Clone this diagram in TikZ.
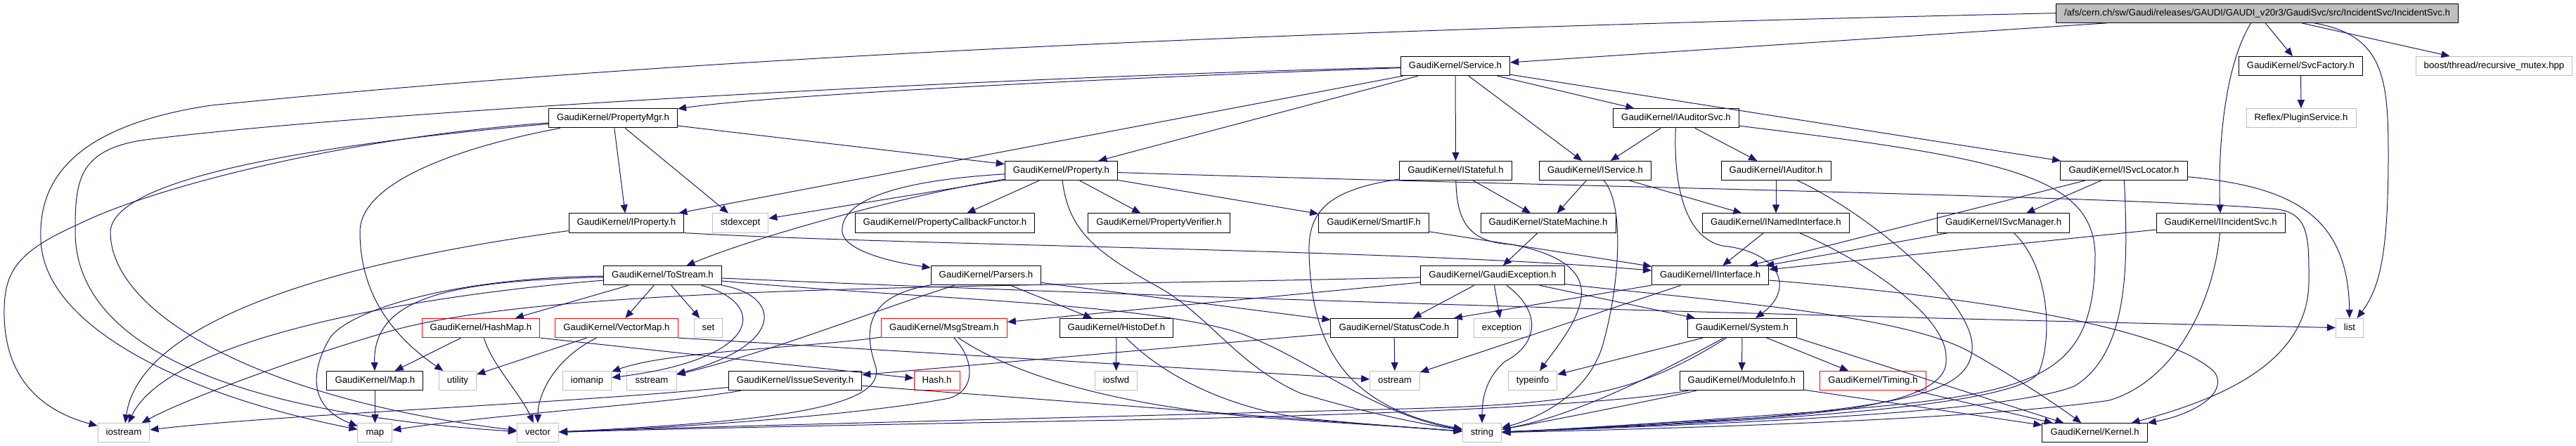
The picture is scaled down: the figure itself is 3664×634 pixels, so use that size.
\documentclass[tikz,border=0pt]{standalone}
\usepackage{fontspec}
\setmainfont{Liberation Sans}
\usetikzlibrary{arrows.meta}
\definecolor{edgeblue}{HTML}{191970}
\definecolor{grey75}{HTML}{BFBFBF}
\begin{document}
\begin{tikzpicture}[x=0.5pt,y=-0.5pt,
  font=\fontsize{6.6pt}{8pt}\selectfont,
  hdr/.style={draw=black,line width=0.5pt,inner xsep=5.8pt,inner ysep=0pt,minimum height=13.6pt,text height=4.8pt,text depth=1.4pt},
  syshdr/.style={hdr,draw=grey75},
  cuthdr/.style={hdr,draw=red},
  dep/.style={draw=edgeblue,line width=0.5pt,-{Triangle[length=6pt,width=5pt]}}]
\useasboundingbox (0,0) rectangle (3664,634);
\node[hdr,fill=grey75] (root) at (3210.5,18.7) {/afs/cern.ch/sw/Gaudi/releases/GAUDI/GAUDI\_v20r3/GaudiSvc/src/IncidentSvc/IncidentSvc.h};
\node[hdr] (service) at (2070,94) {GaudiKernel/Service.h};
\node[hdr] (svcfactory) at (3272.5,94) {GaudiKernel/SvcFactory.h};
\node[syshdr] (boost) at (3547.5,94) {boost/thread/recursive\_mutex.hpp};
\node[hdr] (propmgr) at (872,168.3) {GaudiKernel/PropertyMgr.h};
\node[hdr] (iauditorsvc) at (2384,168.3) {GaudiKernel/IAuditorSvc.h};
\node[syshdr] (plugin) at (3273,168.3) {Reflex/PluginService.h};
\node[hdr] (property) at (1509.4,243) {GaudiKernel/Property.h};
\node[hdr] (istateful) at (2070.5,243) {GaudiKernel/IStateful.h};
\node[hdr] (iservice) at (2269,243) {GaudiKernel/IService.h};
\node[hdr] (iauditor) at (2526,243) {GaudiKernel/IAuditor.h};
\node[hdr] (isvclocator) at (3021,243) {GaudiKernel/ISvcLocator.h};
\node[hdr] (iproperty) at (891,317.5) {GaudiKernel/IProperty.h};
\node[syshdr] (stdexcept) at (1053,317.5) {stdexcept};
\node[hdr] (callback) at (1344,317.5) {GaudiKernel/PropertyCallbackFunctor.h};
\node[hdr] (verifier) at (1648.6,317.5) {GaudiKernel/PropertyVerifier.h};
\node[hdr] (smartif) at (1954,317.5) {GaudiKernel/SmartIF.h};
\node[hdr] (statemachine) at (2202,317.5) {GaudiKernel/StateMachine.h};
\node[hdr] (inamed) at (2526,317.5) {GaudiKernel/INamedInterface.h};
\node[hdr] (isvcmanager) at (2849.6,317.5) {GaudiKernel/ISvcManager.h};
\node[hdr] (iincident) at (3158.6,317.5) {GaudiKernel/IIncidentSvc.h};
\node[hdr] (tostream) at (942.5,392.3) {GaudiKernel/ToStream.h};
\node[hdr] (parsers) at (1402.5,392.3) {GaudiKernel/Parsers.h};
\node[hdr] (gaudiexc) at (2123,392.3) {GaudiKernel/GaudiException.h};
\node[hdr] (iinterface) at (2432.7,392.3) {GaudiKernel/IInterface.h};
\node[cuthdr] (hashmap) at (684,467) {GaudiKernel/HashMap.h};
\node[cuthdr] (vectormap) at (877,467) {GaudiKernel/VectorMap.h};
\node[syshdr] (set) at (1007.5,467) {set};
\node[cuthdr] (msgstream) at (1343,467) {GaudiKernel/MsgStream.h};
\node[hdr] (histodef) at (1588,467) {GaudiKernel/HistoDef.h};
\node[hdr] (statuscode) at (1983,467) {GaudiKernel/StatusCode.h};
\node[syshdr] (exception) at (2136,467) {exception};
\node[hdr] (system) at (2478,467) {GaudiKernel/System.h};
\node[syshdr] (list) at (3342,467) {list};
\node[hdr] (gkmap) at (533.4,542) {GaudiKernel/Map.h};
\node[syshdr] (utility) at (651,542) {utility};
\node[syshdr] (iomanip) at (835,542) {iomanip};
\node[syshdr] (sstream) at (927,542) {sstream};
\node[hdr] (issue) at (1131,542) {GaudiKernel/IssueSeverity.h};
\node[cuthdr] (hash) at (1332.5,542) {Hash.h};
\node[syshdr] (iosfwd) at (1587.5,542) {iosfwd};
\node[syshdr] (ostream) at (1984,542) {ostream};
\node[syshdr] (typeinfo) at (2180,542) {typeinfo};
\node[hdr] (moduleinfo) at (2477.4,542) {GaudiKernel/ModuleInfo.h};
\node[cuthdr] (timing) at (2664,542) {GaudiKernel/Timing.h};
\node[syshdr] (iostream) at (176,616.3) {iostream};
\node[syshdr] (map) at (533.4,616.3) {map};
\node[syshdr] (vector) at (765,616.3) {vector};
\node[syshdr] (string) at (2108,616.3) {string};
\node[hdr] (kernel) at (2979.6,616.3) {GaudiKernel/Kernel.h};
\draw[dep] (root) -- (service);
\draw[dep] (root) -- (svcfactory);
\draw[dep] (root) -- (boost);
\draw[dep] (root) .. controls (3160,100) and (3155,230) .. (iincident);
\draw[dep] (root) .. controls (3390,50) and (3397,110) .. (3397,220) .. controls (3397,360) and (3385,410) .. (list);
\draw[dep] (root.west) .. controls (1500,50) and (800,100) .. (300,150) .. controls (100,180) and (55,260) .. (58,340) .. controls (60,460) and (250,560) .. (map);
\draw[dep] (svcfactory) -- (plugin);
\draw[dep] (service) .. controls (1600,110) and (1100,135) .. (propmgr);
\draw[dep] (service) -- (property);
\draw[dep] (service) -- (iproperty);
\draw[dep] (service) -- (istateful);
\draw[dep] (service) -- (iservice);
\draw[dep] (service) -- (iauditorsvc);
\draw[dep] (service) -- (isvclocator);
\draw[dep] (service) .. controls (1400,110) and (500,160) .. (200,200) .. controls (110,215) and (107,260) .. (107,330) .. controls (107,500) and (350,590) .. (vector);
\draw[dep] (propmgr) -- (property);
\draw[dep] (propmgr) -- (iproperty);
\draw[dep] (propmgr) -- (stdexcept);
\draw[dep] (propmgr) .. controls (500,195) and (220,265) .. (110,320) .. controls (20,360) and (5,390) .. (6,450) .. controls (8,540) and (60,585) .. (iostream);
\draw[dep] (propmgr) .. controls (400,210) and (160,260) .. (157,330) .. controls (157,450) and (380,570) .. (vector);
\draw[dep] (propmgr) .. controls (650,210) and (512,260) .. (512,330) .. controls (512,420) and (560,480) .. (utility);
\draw[dep] (iauditorsvc) -- (iservice);
\draw[dep] (iauditorsvc) -- (iauditor);
\draw[dep] (iauditorsvc) .. controls (2380,260) and (2395,338) .. (2450,350) .. controls (2530,358) and (2555,410) .. (system);
\draw[dep] (iauditorsvc) .. controls (2850,225) and (2975,250) .. (2980,360) .. controls (2980,540) and (2900,560) .. (2600,585) .. controls (2400,600) and (2250,610) .. (string);
\draw[dep] (property) -- (callback);
\draw[dep] (property) -- (verifier);
\draw[dep] (property) -- (smartif);
\draw[dep] (property) -- (stdexcept);
\draw[dep] (property) .. controls (1300,275) and (1080,335) .. (tostream);
\draw[dep] (property) .. controls (1260,258) and (1195,290) .. (1198,330) .. controls (1200,355) and (1260,372) .. (parsers);
\draw[dep] (property) .. controls (1520,330) and (1560,360) .. (1650,410) .. controls (1720,450) and (1760,520) .. (1850,560) .. controls (1950,590) and (2030,605) .. (string);
\draw[dep] (property) .. controls (2200,265) and (3050,280) .. (3240,298) .. controls (3285,305) and (3284,340) .. (3284,400) .. controls (3284,520) and (3150,570) .. (kernel);
\draw[dep] (istateful) -- (statemachine);
\draw[dep] (istateful) .. controls (1890,270) and (1860,300) .. (1862,360) .. controls (1865,500) and (1920,580) .. (string);
\draw[dep] (istateful) .. controls (2072,310) and (2085,345) .. (2150,348) .. controls (2240,365) and (2260,400) .. (2245,440) .. controls (2235,470) and (2210,500) .. (typeinfo);
\draw[dep] (iservice) -- (statemachine);
\draw[dep] (iservice) -- (inamed);
\draw[dep] (iservice) .. controls (2310,290) and (2305,400) .. (2280,490) .. controls (2260,560) and (2190,595) .. (string);
\draw[dep] (iauditor) -- (inamed);
\draw[dep] (iauditor) .. controls (2650,300) and (2800,420) .. (2805,490) .. controls (2810,560) and (2700,575) .. (2500,595) .. controls (2350,606) and (2200,612) .. (string);
\draw[dep] (isvclocator) -- (iinterface);
\draw[dep] (isvclocator) -- (isvcmanager);
\draw[dep] (isvclocator) .. controls (3250,265) and (3340,300) .. (list);
\draw[dep] (isvclocator) .. controls (3025,350) and (3035,500) .. (2950,550) .. controls (2850,590) and (2400,605) .. (string);
\draw[dep] (isvcmanager) -- (iinterface);
\draw[dep] (isvcmanager) .. controls (2915,380) and (2920,480) .. (2900,530) .. controls (2870,580) and (2500,600) .. (string);
\draw[dep] (iincident) -- (iinterface);
\draw[dep] (iincident) .. controls (3150,420) and (3100,540) .. (3000,570) .. controls (2800,600) and (2300,612) .. (string);
\draw[dep] (inamed) -- (iinterface);
\draw[dep] (inamed) .. controls (2650,370) and (2770,450) .. (2768,510) .. controls (2775,575) and (2600,592) .. (2400,600) .. controls (2300,606) and (2200,613) .. (string);
\draw[dep] (smartif) -- (iinterface);
\draw[dep] (statemachine) -- (gaudiexc);
\draw[dep] (iproperty.south east) .. controls (1300,350) and (2000,355) .. (iinterface);
\draw[dep] (iproperty) .. controls (500,370) and (200,450) .. (iostream);
\draw[dep] (tostream) -- (hashmap);
\draw[dep] (tostream) -- (vectormap);
\draw[dep] (tostream) -- (set);
\draw[dep] (tostream) .. controls (1090,430) and (1090,510) .. (iomanip);
\draw[dep] (tostream) .. controls (1110,420) and (1120,490) .. (sstream);
\draw[dep] (tostream) .. controls (1800,430) and (2800,455) .. (list);
\draw[dep] (tostream) .. controls (650,400) and (530,420) .. (gkmap);
\draw[dep] (tostream) .. controls (650,395) and (500,440) .. (470,480) .. controls (440,530) and (440,580) .. (map);
\draw[dep] (tostream) .. controls (600,420) and (240,480) .. (iostream);
\draw[dep] (tostream) .. controls (1300,425) and (1600,430) .. (1750,470) .. controls (1850,500) and (1950,590) .. (string);
\draw[dep] (parsers) -- (histodef);
\draw[dep] (parsers) -- (statuscode);
\draw[dep] (parsers) .. controls (1240,420) and (1225,460) .. (1245,520) .. controls (1265,580) and (1100,600) .. (vector);
\draw[dep] (parsers) .. controls (1250,440) and (1100,500) .. (sstream);
\draw[dep] (gaudiexc) -- (statuscode);
\draw[dep] (gaudiexc) -- (exception);
\draw[dep] (gaudiexc) -- (system);
\draw[dep] (gaudiexc) -- (msgstream);
\draw[dep] (gaudiexc) .. controls (2190,440) and (2192,488) .. (2140,515) .. controls (2112,540) and (2108,570) .. (string);
\draw[dep] (gaudiexc) .. controls (1400,410) and (800,405) .. (560,470) .. controls (420,510) and (260,570) .. (iostream);
\draw[dep] (gaudiexc) .. controls (2400,425) and (2700,445) .. (2800,500) .. controls (2880,545) and (2930,580) .. (kernel);
\draw[dep] (iinterface) -- (statuscode);
\draw[dep] (iinterface) -- (ostream);
\draw[dep] (iinterface) .. controls (2900,430) and (3100,480) .. (3150,530) .. controls (3170,560) and (3120,590) .. (kernel);
\draw[dep] (hashmap) -- (gkmap);
\draw[dep] (hashmap.south east) -- (hash);
\draw[dep] (hashmap) .. controls (700,520) and (740,560) .. (vector);
\draw[dep] (vectormap) -- (utility);
\draw[dep] (vectormap) .. controls (790,510) and (765,560) .. (vector);
\draw[dep] (vectormap.south east) -- (ostream);
\draw[dep] (msgstream) .. controls (1150,495) and (950,500) .. (iomanip);
\draw[dep] (msgstream) .. controls (1420,520) and (1550,575) .. (1800,595) .. controls (1950,605) and (2030,610) .. (string);
\draw[dep] (msgstream) .. controls (1385,510) and (1390,555) .. (1350,567) .. controls (1200,595) and (900,612) .. (vector);
\draw[dep] (histodef) -- (iosfwd);
\draw[dep] (histodef) .. controls (1640,520) and (1720,575) .. (1850,595) .. controls (1950,605) and (2030,610) .. (string);
\draw[dep] (statuscode) -- (ostream);
\draw[dep] (statuscode) -- (issue);
\draw[dep] (issue) .. controls (800,575) and (400,590) .. (iostream);
\draw[dep] (issue) .. controls (950,575) and (700,590) .. (map);
\draw[dep] (issue) -- (string);
\draw[dep] (gkmap) -- (map);
\draw[dep] (system) -- (typeinfo);
\draw[dep] (system) -- (moduleinfo);
\draw[dep] (system) -- (timing);
\draw[dep] (system.south east) -- (kernel);
\draw[dep] (system) .. controls (2380,520) and (2250,590) .. (string);
\draw[dep] (system) .. controls (2330,560) and (2250,575) .. (2000,582) .. controls (1500,595) and (900,610) .. (vector);
\draw[dep] (moduleinfo) .. controls (2350,570) and (2200,600) .. (string);
\draw[dep] (moduleinfo) .. controls (2300,575) and (2000,590) .. (1600,598) .. controls (1200,605) and (900,612) .. (vector);
\draw[dep] (moduleinfo) -- (kernel);
\draw[dep] (timing) -- (kernel);
\end{tikzpicture}
\end{document}
